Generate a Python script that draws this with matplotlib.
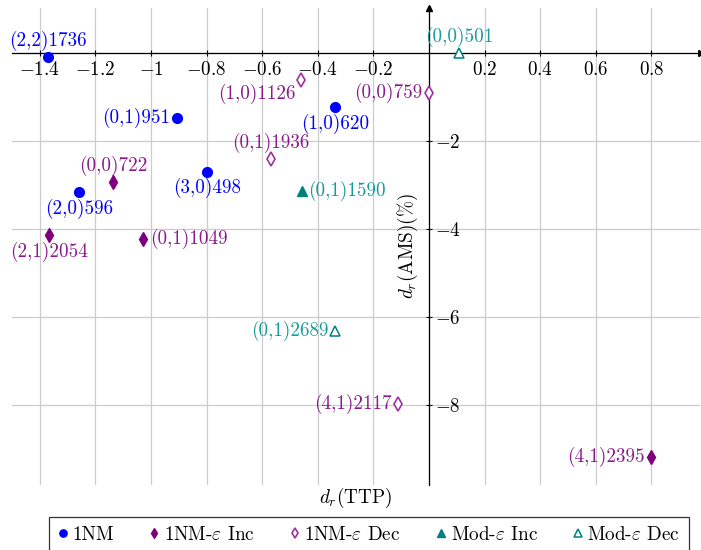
import matplotlib
matplotlib.use("Agg")
import matplotlib.pyplot as plt
import matplotlib.transforms as mtransforms

plt.rcParams['font.family'] = ['cmr10', 'DejaVu Serif']
plt.rcParams['mathtext.fontset'] = 'cm'
plt.rcParams['axes.unicode_minus'] = False
plt.rcParams['axes.formatter.use_mathtext'] = True

# ---- data ----
nm_x = [-1.37, -0.908, -0.339, -0.797, -1.258]
nm_y = [-0.09, -1.48, -1.23, -2.70, -3.16]
nm_lab = ['(2,2)1736', '(0,1)951', '(1,0)620', '(3,0)498', '(2,0)596']
nm_pos = ['above', 'left', 'below', 'below', 'below']

inc_x = [-1.135, -1.366, -1.027, 0.797]
inc_y = [-2.93, -4.14, -4.23, -9.18]
inc_lab = ['(0,0)722', '(2,1)2054', '(0,1)1049', '(4,1)2395']
inc_pos = ['above', 'below', 'right', 'left']

dec_x = [-0.461, 0.0, -0.569, -0.112]
dec_y = [-0.61, -0.91, -2.41, -7.98]
dec_lab = ['(1,0)1126', '(0,0)759', '(0,1)1936', '(4,1)2117']
dec_pos = ['below left', 'left', 'above', 'left']

minc_x = [-0.458]
minc_y = [-3.14]
minc_lab = ['(0,1)1590']
minc_pos = ['right']

mdec_x = [0.108, -0.339]
mdec_y = [0.0, -6.32]
mdec_lab = ['(0,0)501', '(0,1)2689']
mdec_pos = ['above', 'left']

xticks = [-1.4, -1.2, -1.0, -0.8, -0.6, -0.4, -0.2, 0.2, 0.4, 0.6, 0.8]
xticklabels = ['$-1.4$', '$-1.2$', '$-1$', '$-0.8$', '$-0.6$', '$-0.4$', '$-0.2$',
               '$0.2$', '$0.4$', '$0.6$', '$0.8$']
yticks = [-8, -6, -4, -2]
yticklabels = ['$-8$', '$-6$', '$-4$', '$-2$']

FS = 13.8

fig = plt.figure(figsize=(7.01, 5.5), dpi=100)
ax = fig.add_axes([12/701, 1-485/550, (700-12)/701, (485-8)/550])
ax.set_xlim(-1.5, 0.975)
ax.set_ylim(-9.82, 1.02)

# grid
for xv in [-1.4, -1.2, -1.0, -0.8, -0.6, -0.4, -0.2, 0.0, 0.2, 0.4, 0.6, 0.8]:
    ax.axvline(xv, color='#cccccc', lw=0.9, zorder=0)
for yv in [-8, -6, -4, -2, 0]:
    ax.axhline(yv, color='#cccccc', lw=0.9, zorder=0)

# axes through origin
for s in ['left', 'top']:
    ax.spines[s].set_visible(False)
ax.spines['bottom'].set_position(('data', 0))
ax.spines['right'].set_position(('data', 0))
ax.spines['bottom'].set_linewidth(0.9)
ax.spines['right'].set_linewidth(0.9)
ax.xaxis.set_ticks_position('bottom')
ax.yaxis.set_ticks_position('right')
ax.set_xticks(xticks)
ax.set_xticklabels(xticklabels)
ax.set_yticks(yticks)
ax.set_yticklabels(yticklabels)
ax.tick_params(axis='both', direction='inout', length=5, width=0.8, labelsize=FS)
ax.tick_params(axis='x', pad=3)
ax.tick_params(axis='y', pad=2)

# arrow heads
ax.plot(1, 0, marker=(3, 0, -90), color='black', ms=5, transform=ax.get_yaxis_transform(), clip_on=False)
ax.plot(0, 1, marker='^', color='black', ms=5, transform=ax.get_xaxis_transform(), clip_on=False)

blue = '#0000ff'
purp = '#7f007f'
purp_txt = '#8a1a8a'
purp2 = '#a030a0'
teal = '#008080'
teal_txt = '#1a9a9a'

series = [
    (nm_x, nm_y, nm_lab, nm_pos, dict(marker='o', ms=7, color=blue, mfc=blue, mec=blue), blue, '1NM'),
    (inc_x, inc_y, inc_lab, inc_pos, dict(marker='d', ms=7, color=purp, mfc=purp, mec=purp), purp_txt, '1NM-$\\varepsilon$ Inc'),
    (dec_x, dec_y, dec_lab, dec_pos, dict(marker='d', ms=7, color=purp2, mfc='white', mec=purp2, mew=1.2), purp_txt, '1NM-$\\varepsilon$ Dec'),
    (minc_x, minc_y, minc_lab, minc_pos, dict(marker='^', ms=7.5, color=teal, mfc=teal, mec=teal), teal_txt, 'Mod-$\\varepsilon$ Inc'),
    (mdec_x, mdec_y, mdec_lab, mdec_pos, dict(marker='^', ms=7.5, color=teal, mfc='white', mec=teal, mew=1.1), teal_txt, 'Mod-$\\varepsilon$ Dec'),
]

offs = {
    'above': ((0, 11.5), 'center', 'center'),
    'below': ((0, -12), 'center', 'center'),
    'left': ((-4.5, 0), 'right', 'center'),
    'right': ((4.5, 0), 'left', 'center'),
    'below left': ((-4, -10.5), 'right', 'center'),
}

handles = []
for xs, ys, labs, poss, mk, tcol, name in series:
    h, = ax.plot(xs, ys, ls='none', zorder=5, clip_on=False, label=name, **mk)
    handles.append(h)
    for x, y, lab, p in zip(xs, ys, labs, poss):
        off, ha, va = offs[p]
        ax.annotate(lab, (x, y), xytext=off, textcoords='offset points',
                    ha=ha, va=va, fontsize=FS, color=tcol, zorder=6)

ax.text(-0.076, 0.5, '$d_r$(AMS)(%)', rotation=90, ha='center', va='center',
        fontsize=FS,
        transform=mtransforms.blended_transform_factory(ax.transData, ax.transAxes))
ax.text(0.5, -0.027, '$d_r$(TTP)', ha='center', va='center', fontsize=FS,
        transform=ax.transAxes)

leg = fig.legend(handles=handles, loc='upper center', bbox_to_anchor=(369/701, 1-517/550),
                 ncol=5, fontsize=FS, frameon=True, fancybox=False, edgecolor='black',
                 handlelength=0.5, handletextpad=0.25, columnspacing=1.85,
                 borderpad=0.45, borderaxespad=0, markerscale=0.75)
leg.get_frame().set_linewidth(0.9)

fig.savefig('out.png', dpi=100)
